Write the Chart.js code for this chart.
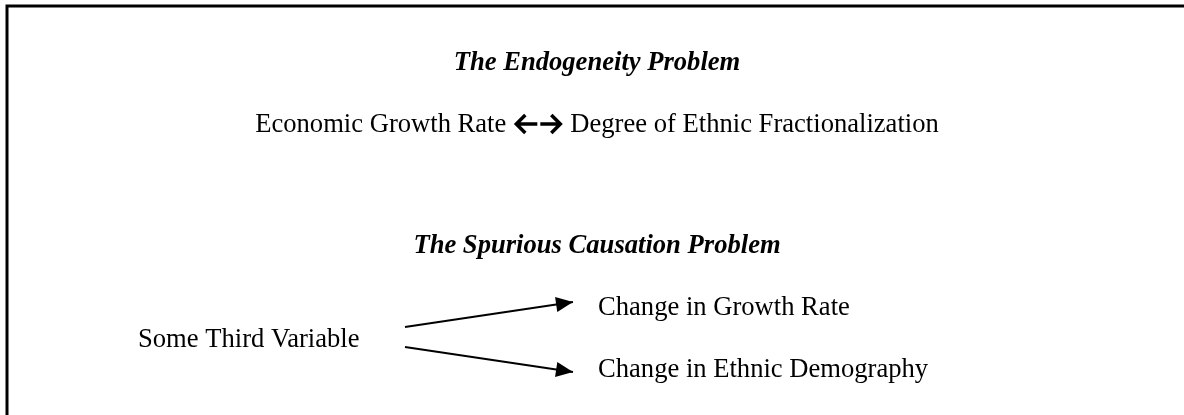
<!DOCTYPE html>
<html>
<head>
<meta charset="utf-8">
<script src="https://cdn.jsdelivr.net/npm/chart.js@4"></script>
<style>
  html, body { margin: 0; padding: 0; background: #fff; }
  #wrap { width: 1184px; height: 415px; position: relative; }
</style>
</head>
<body>
<div id="wrap"><canvas id="chart"></canvas></div>
<script>
// texts of the diagram
const titles = ['The Endogeneity Problem', 'The Spurious Causation Problem'];
const endogeneityPair = ['Economic Growth Rate', 'Degree of Ethnic Fractionalization'];
const causeLabel = 'Some Third Variable';
const effectLabels = ['Change in Growth Rate', 'Change in Ethnic Demography'];

// layout in page units (x 0..1184, y 0..415 from top)
const centerX = 597;
const titleY = [70, 253];
const pairY = 132;
const causePos = { x: 138, y: 347 };
const effectX = 598;
const effectY = [315, 377];
const arrowStart = [{ x: 405, y: 327 }, { x: 405, y: 347 }];
const arrowEnd = [{ x: 573, y: 302 }, { x: 573, y: 372 }];

const serif = '"Liberation Serif", "Times New Roman", serif';
const regular = '26.6px ' + serif;
const boldItalic = 'italic bold 26.6px ' + serif;

const diagramPlugin = {
    id: 'diagram',
    afterDraw(chart) {
        const ctx = chart.ctx;
        const xs = chart.scales.x;
        const ys = chart.scales.y;
        const px = v => xs.getPixelForValue(v);
        const py = v => ys.getPixelForValue(v);

        ctx.save();
        // frame (only left and top edges are in view)
        ctx.strokeStyle = '#000';
        ctx.lineWidth = 3;
        ctx.beginPath();
        ctx.moveTo(px(7), py(420));
        ctx.lineTo(px(7), py(6));
        ctx.lineTo(px(1190), py(6));
        ctx.stroke();

        ctx.fillStyle = '#000';
        ctx.textBaseline = 'alphabetic';

        // titles
        ctx.font = boldItalic;
        ctx.textAlign = 'center';
        titles.forEach((t, i) => ctx.fillText(t, px(centerX), py(titleY[i])));

        // endogeneity line: left text, double arrow, right text
        ctx.font = regular;
        const leftW = ctx.measureText(endogeneityPair[0]).width;
        const rightW = ctx.measureText(endogeneityPair[1]).width;
        const arrowW = 46, gap = 9;
        const total = leftW + gap + arrowW + gap + rightW;
        let x0 = px(centerX) - total / 2;
        ctx.textAlign = 'left';
        ctx.fillText(endogeneityPair[0], x0, py(pairY));
        const ax = x0 + leftW + gap;
        const ay = py(pairY) - 8;
        ctx.lineWidth = 3.5;
        ctx.lineJoin = 'miter';
        ctx.beginPath();
        // left arrow
        ctx.moveTo(ax + 10, ay - 9);
        ctx.lineTo(ax + 1, ay);
        ctx.lineTo(ax + 10, ay + 9);
        ctx.moveTo(ax + 1, ay);
        ctx.lineTo(ax + 22, ay);
        // right arrow
        ctx.moveTo(ax + 25, ay);
        ctx.lineTo(ax + arrowW - 1, ay);
        ctx.moveTo(ax + arrowW - 10, ay - 9);
        ctx.lineTo(ax + arrowW - 1, ay);
        ctx.lineTo(ax + arrowW - 10, ay + 9);
        ctx.stroke();
        ctx.fillText(endogeneityPair[1], ax + arrowW + gap, py(pairY));

        // cause and effects
        ctx.fillText(causeLabel, px(causePos.x), py(causePos.y));
        effectLabels.forEach((t, i) => ctx.fillText(t, px(effectX), py(effectY[i])));

        // arrow heads at the end of each line dataset
        chart.data.datasets.forEach((ds, i) => {
            const pts = chart.getDatasetMeta(i).data;
            const a = pts[pts.length - 2], b = pts[pts.length - 1];
            const ang = Math.atan2(b.y - a.y, b.x - a.x);
            const len = 17, half = 7.5;
            ctx.save();
            ctx.translate(b.x, b.y);
            ctx.rotate(ang);
            ctx.beginPath();
            ctx.moveTo(0, 0);
            ctx.lineTo(-len, -half);
            ctx.lineTo(-len, half);
            ctx.closePath();
            ctx.fill();
            ctx.restore();
        });
        ctx.restore();
    }
};

new Chart(document.getElementById('chart'), {
    type: 'scatter',
    data: {
        datasets: arrowStart.map((s, i) => ({
            label: effectLabels[i],
            data: [s, arrowEnd[i]],
            showLine: true,
            borderColor: '#000',
            borderWidth: 2,
            pointRadius: 0,
            fill: false
        }))
    },
    options: {
        responsive: true,
        maintainAspectRatio: false,
        animation: false,
        layout: { padding: 0 },
        plugins: { legend: { display: false }, tooltip: { enabled: false } },
        scales: {
            x: { type: 'linear', min: 0, max: 1184, display: false },
            y: { type: 'linear', min: 0, max: 415, reverse: true, display: false }
        }
    },
    plugins: [diagramPlugin]
});
</script>
</body>
</html>
